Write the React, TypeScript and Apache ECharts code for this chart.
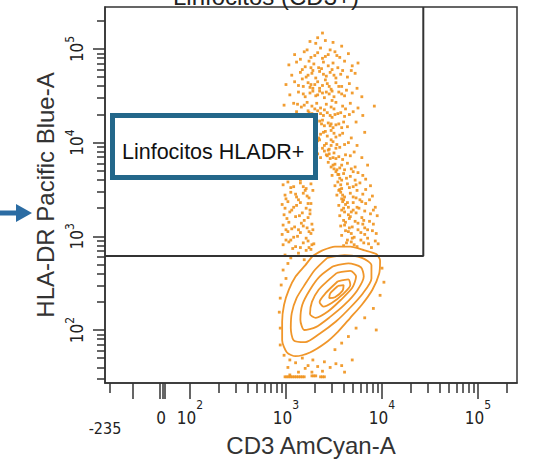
import React, { useEffect, useRef } from 'react';
import * as echarts from 'echarts';

const FONT = '"Liberation Sans", Arial, Helvetica, sans-serif';
const NARROW = '"Liberation Sans Narrow", "DejaVu Sans Condensed", "Liberation Sans", Arial, sans-serif';

// Axis ranges in decades (log10 of fluorescence; biexponential region below 10^2)
const X_MIN = 1.115;
const X_MAX = 5.406;
const Y_MIN = 1.434;
const Y_MAX = 5.448;

// Tick labels
const xLabelValues = [1.115, 1.7, 2, 3, 4, 5];
const xLabelBase = ['-235', '0', '10', '10', '10', '10'];
const xLabelExp = ['', '', '2', '3', '4', '5'];
const yLabelValues = [2, 3, 4, 5];
const yLabelExp = ['2', '3', '4', '5'];

// Ticks
const xMajorTicks = [1.4, 1.688, 1.714, 1.74, 2, 3, 4, 5];
const xLinearMinor = [1.167];
const yMajorTicks = [2, 3, 4, 5];
const logSteps = [2, 3, 4, 5, 6, 7, 8, 9];

// Gate (Linfocitos HLADR+)
const GATE_X = 4.43;
const GATE_Y = 2.79;

// Events above/around the population (log10 CD3, log10 HLA-DR)
const upperCloud: [number, number][] = [
  [3.38, 5.17], [3.33, 5.12],
  [3.25, 5.08], [3.31, 5.06], [3.41, 5.09], [3.49, 5.07], [3.58, 5.03],
  [3.09, 4.94], [3.19, 4.97], [3.26, 4.91], [3.33, 4.96], [3.38, 4.9], [3.44, 4.94], [3.51, 4.97], [3.56, 4.91], [3.65, 4.95], [3.15, 4.89],
  [3.03, 4.83], [3.11, 4.86], [3.2, 4.81], [3.24, 4.87], [3.29, 4.84], [3.34, 4.8], [3.39, 4.86], [3.44, 4.82], [3.49, 4.85], [3.54, 4.8], [3.61, 4.87], [3.69, 4.82], [3.75, 4.85],
  [3.06, 4.72], [3.15, 4.75], [3.21, 4.7], [3.27, 4.74], [3.31, 4.69], [3.35, 4.76], [3.42, 4.71], [3.46, 4.75], [3.52, 4.69], [3.57, 4.73], [3.64, 4.7], [3.72, 4.74], [3.17, 4.68],
  [3.0, 4.62], [3.09, 4.65], [3.18, 4.6], [3.23, 4.64], [3.28, 4.58], [3.33, 4.65], [3.38, 4.61], [3.43, 4.63], [3.47, 4.57], [3.52, 4.64], [3.58, 4.6], [3.66, 4.63], [3.74, 4.58], [3.3, 4.62],
  [3.04, 4.51], [3.13, 4.54], [3.2, 4.49], [3.25, 4.53], [3.31, 4.5], [3.35, 4.55], [3.4, 4.48], [3.45, 4.52], [3.5, 4.49], [3.55, 4.54], [3.61, 4.5], [3.69, 4.53], [3.79, 4.49],
  [2.98, 4.4], [3.08, 4.42], [3.16, 4.38], [3.22, 4.43], [3.27, 4.39], [3.32, 4.42], [3.36, 4.37], [3.42, 4.41], [3.47, 4.38], [3.52, 4.43], [3.59, 4.39], [3.67, 4.42], [3.75, 4.37], [3.92, 4.39],
  [3.02, 4.3], [3.11, 4.33], [3.19, 4.28], [3.24, 4.32], [3.29, 4.27], [3.33, 4.34], [3.39, 4.29], [3.43, 4.32], [3.48, 4.27], [3.54, 4.31], [3.61, 4.28], [3.7, 4.33], [3.8, 4.29],
  [2.97, 4.19], [3.06, 4.22], [3.15, 4.17], [3.21, 4.21], [3.26, 4.16], [3.31, 4.2], [3.35, 4.23], [3.4, 4.18], [3.44, 4.21], [3.49, 4.16], [3.55, 4.2], [3.64, 4.17], [3.73, 4.22],
  [3.01, 4.08], [3.1, 4.11], [3.19, 4.06], [3.25, 4.12], [3.3, 4.07], [3.34, 4.05], [3.39, 4.11], [3.43, 4.07], [3.47, 4.13], [3.52, 4.06], [3.59, 4.1], [3.68, 4.05], [3.82, 4.11],
  [2.99, 3.98], [3.08, 4.01], [3.17, 3.95], [3.23, 4.0], [3.28, 3.97], [3.33, 4.02], [3.38, 3.94], [3.42, 3.99], [3.45, 3.93], [3.49, 4.01], [3.56, 3.95], [3.65, 4.0], [3.74, 3.97],
  [2.97, 3.87], [3.05, 3.9], [3.14, 3.85], [3.21, 3.89], [3.27, 3.84], [3.33, 3.88], [3.4, 3.91], [3.43, 3.86], [3.46, 3.83], [3.5, 3.89], [3.55, 3.85], [3.62, 3.87], [3.71, 3.9], [3.79, 3.84],
  [2.98, 3.76], [3.04, 3.79], [3.11, 3.74], [3.18, 3.78], [3.24, 3.73], [3.3, 3.77], [3.44, 3.79], [3.47, 3.74], [3.51, 3.77], [3.56, 3.73], [3.64, 3.78], [3.72, 3.74], [3.85, 3.76],
  [2.96, 3.66], [3.03, 3.69], [3.09, 3.64], [3.16, 3.68], [3.22, 3.62], [3.27, 3.67], [3.48, 3.65], [3.52, 3.69], [3.56, 3.62], [3.6, 3.67], [3.67, 3.64], [3.75, 3.68], [3.83, 3.61],
  [2.97, 3.55], [3.02, 3.58], [3.08, 3.53], [3.15, 3.57], [3.21, 3.51], [3.26, 3.56], [3.51, 3.54], [3.54, 3.58], [3.58, 3.51], [3.64, 3.56], [3.7, 3.53], [3.77, 3.57], [3.88, 3.54],
  [2.99, 3.44], [3.05, 3.47], [3.11, 3.42], [3.18, 3.46], [3.24, 3.41], [3.53, 3.44], [3.57, 3.47], [3.61, 3.42], [3.67, 3.46], [3.73, 3.41], [3.8, 3.45], [3.9, 3.43],
  [2.96, 3.34], [3.02, 3.37], [3.08, 3.31], [3.15, 3.36], [3.21, 3.3], [3.26, 3.35], [3.55, 3.33], [3.59, 3.37], [3.65, 3.31], [3.7, 3.36], [3.76, 3.3], [3.83, 3.35], [3.93, 3.31],
  [2.98, 3.23], [3.04, 3.26], [3.1, 3.21], [3.17, 3.25], [3.23, 3.2], [3.56, 3.22], [3.61, 3.26], [3.67, 3.21], [3.73, 3.25], [3.79, 3.2], [3.88, 3.24], [3.95, 3.22],
  [2.97, 3.12], [3.03, 3.15], [3.09, 3.1], [3.16, 3.14], [3.22, 3.09], [3.27, 3.13], [3.57, 3.11], [3.62, 3.15], [3.69, 3.1], [3.75, 3.14], [3.82, 3.09], [3.91, 3.13],
  [2.96, 3.02], [3.02, 3.05], [3.08, 2.99], [3.15, 3.04], [3.21, 2.98], [3.26, 3.03], [3.58, 3.01], [3.65, 3.05], [3.71, 2.99], [3.78, 3.04], [3.85, 2.98], [3.94, 3.03],
  [2.97, 2.91], [3.03, 2.94], [3.1, 2.89], [3.18, 2.93], [3.24, 2.88], [3.29, 2.92], [3.6, 2.9], [3.68, 2.94], [3.74, 2.89], [3.81, 2.93], [3.89, 2.88], [3.96, 2.92],
];

const denseCore: [number, number][] = [
  [3.28, 4.77], [3.41, 4.67], [3.33, 4.51], [3.48, 4.45], [3.38, 4.24], [3.46, 4.18], [3.29, 4.14], [3.53, 3.98],
  [3.35, 4.03], [3.44, 3.92], [3.49, 3.84], [3.42, 3.87], [3.53, 3.71], [3.58, 3.6], [3.55, 3.49], [3.6, 3.39],
  [3.58, 3.28], [3.61, 3.12], [3.64, 2.96], [3.28, 3.49], [3.25, 3.28], [3.28, 3.07], [3.27, 2.91], [3.23, 4.34],
  [3.58, 4.16], [3.42, 4.54], [3.26, 4.62], [3.51, 4.3], [3.32, 3.94], [3.47, 4.03],
  [3.01, 3.81], [3.08, 3.71], [3.15, 3.6], [3.2, 3.49], [3.13, 3.39], [3.06, 3.28], [3.19, 3.17], [3.13, 3.07],
  [3.05, 2.96], [3.21, 2.85], [3.0, 3.07], [3.25, 3.81], [3.21, 3.71],
  [3.49, 3.76], [3.54, 3.66], [3.57, 3.55], [3.59, 3.44], [3.62, 3.34], [3.65, 3.23], [3.66, 3.09], [3.69, 2.98],
  [3.72, 3.6], [3.77, 3.39], [3.81, 3.17], [3.85, 3.07], [3.7, 3.28], [3.74, 3.49], [3.61, 3.71],
];

const extraCloud: [number, number][] = [
  [3.22, 4.99], [3.36, 5.01], [3.46, 4.99], [3.3, 4.93], [3.41, 4.92], [3.53, 4.93],
  [3.17, 4.78], [3.26, 4.8], [3.37, 4.79], [3.48, 4.78], [3.59, 4.77], [3.68, 4.77], [3.23, 4.72], [3.39, 4.73], [3.5, 4.72],
  [3.13, 4.61], [3.25, 4.59], [3.35, 4.58], [3.45, 4.6], [3.55, 4.6], [3.63, 4.56], [3.18, 4.52], [3.28, 4.55], [3.38, 4.53], [3.48, 4.55], [3.58, 4.52],
  [3.12, 4.41], [3.19, 4.4], [3.3, 4.36], [3.4, 4.35], [3.5, 4.36], [3.62, 4.36], [3.14, 4.3], [3.27, 4.31], [3.36, 4.31], [3.46, 4.29], [3.57, 4.32], [3.66, 4.3],
  [3.11, 4.2], [3.24, 4.19], [3.37, 4.2], [3.47, 4.2], [3.52, 4.19], [3.6, 4.22], [3.14, 4.09], [3.22, 4.08], [3.36, 4.09], [3.41, 4.12], [3.5, 4.1], [3.56, 4.08],
  [3.13, 3.99], [3.2, 3.97], [3.31, 3.99], [3.4, 3.97], [3.47, 3.97], [3.52, 3.94], [3.61, 3.98],
  [3.09, 3.87], [3.18, 3.83], [3.3, 3.86], [3.36, 3.84], [3.45, 3.88], [3.52, 3.83], [3.59, 3.82], [3.67, 3.86], [3.14, 3.76], [3.27, 3.75], [3.5, 3.72], [3.58, 3.76], [3.68, 3.72],
  [3.0, 3.62], [3.12, 3.66], [3.24, 3.64], [3.05, 3.52], [3.18, 3.53], [3.0, 3.4], [3.1, 3.45], [3.22, 3.43], [2.99, 3.3], [3.11, 3.33], [3.23, 3.35],
  [3.01, 3.19], [3.14, 3.22], [3.25, 3.24], [3.06, 3.08], [3.18, 3.11], [3.24, 3.05], [3.0, 2.96], [3.12, 3.0], [3.23, 2.95], [3.07, 2.87], [3.15, 2.88], [3.26, 2.86],
  [3.55, 3.66], [3.63, 3.62], [3.7, 3.69], [3.8, 3.65], [3.56, 3.5], [3.66, 3.52], [3.73, 3.55], [3.83, 3.5], [3.58, 3.4], [3.64, 3.36], [3.7, 3.42], [3.79, 3.37], [3.87, 3.39],
  [3.6, 3.3], [3.68, 3.26], [3.74, 3.31], [3.82, 3.27], [3.91, 3.28], [3.6, 3.17], [3.66, 3.19], [3.72, 3.16], [3.8, 3.13], [3.87, 3.16],
  [3.62, 3.06], [3.68, 3.03], [3.75, 3.07], [3.82, 3.02], [3.9, 3.06], [3.63, 2.93], [3.71, 2.91], [3.78, 2.96], [3.86, 2.92], [3.93, 2.95],
];

const lowerOutliers: [number, number][] = [
  [2.99, 2.8], [3.05, 2.77], [3.13, 2.82], [3.19, 2.75], [3.02, 2.71], [2.97, 2.64], [3.0, 2.55], [2.95, 2.48],
  [2.94, 2.34], [2.93, 2.19], [2.94, 2.02], [4.0, 2.66], [4.02, 2.51], [3.98, 2.37],
  [2.98, 1.73], [3.04, 1.68], [3.1, 1.65], [3.17, 1.7], [3.23, 1.62], [3.28, 1.68], [3.33, 1.61], [3.4, 1.66],
  [3.46, 1.6], [3.52, 1.64], [3.58, 1.62], [3.02, 1.6], [3.13, 1.55], [3.27, 1.55], [3.51, 1.79], [3.58, 1.86],
  [3.65, 1.93], [3.73, 2.02], [3.82, 2.13], [3.91, 2.23], [3.94, 2.0], [3.04, 1.52], [3.61, 1.55], [2.94, 1.84],
  [3.2, 1.59], [3.38, 1.56], [3.69, 1.68],
  [2.99, 1.5], [3.01, 1.5], [3.03, 1.5], [3.05, 1.5], [3.07, 1.5], [3.09, 1.5], [3.11, 1.5], [3.13, 1.5],
  [3.15, 1.5], [3.17, 1.5], [3.19, 1.5], [3.27, 1.51], [3.29, 1.51], [3.31, 1.51], [3.36, 1.5], [3.38, 1.5], [3.4, 1.5],
];

// Density contours (outer to inner)
const contour6: [number, number][] = [
  [3.38, 2.85], [3.51, 2.89], [3.67, 2.89], [3.82, 2.85], [3.94, 2.81], [3.98, 2.74], [3.97, 2.6], [3.9, 2.43],
  [3.79, 2.27], [3.67, 2.13], [3.54, 1.98], [3.41, 1.86], [3.25, 1.76], [3.1, 1.72], [3.01, 1.76], [2.96, 1.89],
  [2.96, 2.09], [2.98, 2.27], [3.03, 2.43], [3.1, 2.57], [3.2, 2.69], [3.28, 2.79],
];
const contour5: [number, number][] = [
  [3.43, 2.77], [3.61, 2.8], [3.79, 2.77], [3.89, 2.69], [3.89, 2.55], [3.8, 2.39], [3.67, 2.24], [3.52, 2.09],
  [3.35, 1.96], [3.2, 1.87], [3.08, 1.89], [3.05, 2.02], [3.06, 2.18], [3.11, 2.34], [3.2, 2.49], [3.3, 2.64],
];
const contour4: [number, number][] = [
  [3.49, 2.68], [3.65, 2.71], [3.78, 2.67], [3.81, 2.57], [3.74, 2.42], [3.61, 2.27], [3.46, 2.14], [3.31, 2.03],
  [3.19, 2.0], [3.15, 2.11], [3.17, 2.27], [3.25, 2.43], [3.35, 2.57],
];
const contour3: [number, number][] = [
  [3.53, 2.61], [3.67, 2.63], [3.73, 2.57], [3.69, 2.45], [3.57, 2.32], [3.44, 2.2], [3.31, 2.13], [3.25, 2.17],
  [3.27, 2.3], [3.34, 2.43], [3.44, 2.53],
];
const contour2: [number, number][] = [
  [3.54, 2.52], [3.65, 2.54], [3.67, 2.48], [3.59, 2.38], [3.48, 2.29], [3.39, 2.25], [3.35, 2.3], [3.41, 2.39],
];
const contour1: [number, number][] = [
  [3.54, 2.47], [3.6, 2.48], [3.59, 2.42], [3.51, 2.35], [3.45, 2.34], [3.46, 2.39],
];
const contours = [contour6, contour5, contour4, contour3, contour2, contour1];

const ORANGE = '#f0921c';
const AXIS = '#333333';

function logMinors(decades: number[], extra: number[]): number[] {
  const out: number[] = [];
  decades.forEach((d) => logSteps.forEach((s) => out.push(d + Math.log10(s))));
  return out.concat(extra);
}

export default function App() {
  const ref = useRef<HTMLDivElement>(null);

  useEffect(() => {
    if (!ref.current) return;
    const chart = echarts.init(ref.current, undefined, { renderer: 'svg' });

    const xMinor = logMinors([2, 3, 4], [5 + Math.log10(2)]).concat(xLinearMinor).filter((v) => v > X_MIN && v < X_MAX);
    const yMinor = logMinors([1, 2, 3, 4], [5 + Math.log10(2)]).filter((v) => v > Y_MIN && v < Y_MAX);

    const richX = {
      b: { fontSize: 17, fontFamily: NARROW, color: '#222', verticalAlign: 'bottom', padding: [10, 0, 0, 0] },
      s: { fontSize: 12, fontFamily: NARROW, color: '#222', verticalAlign: 'top' },
      low: { fontSize: 16, fontFamily: NARROW, color: '#222', padding: [21, 0, 0, 0] },
    };
    const richY = {
      b: { fontSize: 17, fontFamily: NARROW, color: '#222', verticalAlign: 'bottom', padding: [4, 0, 0, 0] },
      s: { fontSize: 12, fontFamily: NARROW, color: '#222', verticalAlign: 'top' },
    };

    const option: any = {
      animation: false,
      backgroundColor: '#ffffff',
      grid: {
        left: 105, right: 21, top: 7, bottom: 86,
        show: true, borderColor: AXIS, borderWidth: 1.5, backgroundColor: 'transparent',
      },
      xAxis: [
        {
          type: 'value', min: X_MIN, max: X_MAX, position: 'bottom',
          name: 'CD3 AmCyan-A', nameLocation: 'middle', nameGap: 50, nameMoveOverlap: false,
          nameTextStyle: { fontSize: 24, color: '#333', fontFamily: FONT },
          axisLine: { show: true, onZero: false, lineStyle: { color: AXIS, width: 1.5 } },
          axisTick: { show: true, customValues: xMajorTicks, length: 16, lineStyle: { color: AXIS, width: 1.5 } },
          axisLabel: {
            show: true, customValues: xLabelValues, margin: 16, rich: richX,
            formatter: (v: number) => {
              const i = xLabelValues.findIndex((x) => Math.abs(x - v) < 1e-6);
              if (i < 0) return '';
              if (i === 0) return '{low|' + xLabelBase[0] + '}';
              if (!xLabelExp[i]) return '{b|' + xLabelBase[i] + '}';
              return '{b|' + xLabelBase[i] + '}{s|' + xLabelExp[i] + '}';
            },
          },
          splitLine: { show: false },
        },
        {
          type: 'value', min: X_MIN, max: X_MAX, position: 'bottom',
          axisLine: { show: false },
          axisTick: { show: true, customValues: xMinor, length: 10, lineStyle: { color: AXIS, width: 1.5 } },
          axisLabel: { show: false },
          splitLine: { show: false },
        },
      ],
      yAxis: [
        {
          type: 'value', min: Y_MIN, max: Y_MAX, position: 'left',
          name: 'HLA-DR Pacific Blue-A', nameLocation: 'middle', nameGap: 48, nameMoveOverlap: false,
          nameTextStyle: { fontSize: 24, color: '#333', fontFamily: FONT },
          axisLine: { show: true, onZero: false, lineStyle: { color: AXIS, width: 1.5 } },
          axisTick: { show: true, customValues: yMajorTicks, length: 12, lineStyle: { color: AXIS, width: 1.5 } },
          axisLabel: {
            show: true, customValues: yLabelValues, margin: 20, rotate: 90, rich: richY,
            formatter: (v: number) => {
              const i = yLabelValues.findIndex((y) => Math.abs(y - v) < 1e-6);
              if (i < 0) return '';
              return '{b|10}{s|' + yLabelExp[i] + '}';
            },
          },
          splitLine: { show: false },
        },
        {
          type: 'value', min: Y_MIN, max: Y_MAX, position: 'left',
          axisLine: { show: false },
          axisTick: { show: true, customValues: yMinor, length: 8, lineStyle: { color: AXIS, width: 1.5 } },
          axisLabel: { show: false },
          splitLine: { show: false },
        },
      ],
      series: [
        {
          type: 'scatter', xAxisIndex: 0, yAxisIndex: 0,
          data: [...upperCloud, ...denseCore, ...extraCloud, ...lowerOutliers],
          symbol: 'rect', symbolSize: 2.8, silent: true,
          itemStyle: { color: ORANGE, opacity: 0.9 }, z: 2,
        },
        ...contours.map((c) => ({
          type: 'line', xAxisIndex: 0, yAxisIndex: 0,
          data: [...c, c[0]], symbol: 'none', showSymbol: false, smooth: 0.25, silent: true,
          lineStyle: { color: '#f0962a', width: 1.8 }, z: 3,
        })),
        {
          type: 'line', xAxisIndex: 0, yAxisIndex: 0,
          data: [[X_MIN, GATE_Y], [GATE_X, GATE_Y], [GATE_X, Y_MAX]],
          symbol: 'none', showSymbol: false, silent: true,
          lineStyle: { color: '#333', width: 2 }, z: 4,
        },
      ],
      graphic: [
        {
          type: 'text', x: 266, y: 8, z: 10,
          style: { text: 'Linfocitos (CD3+)', font: '24px ' + FONT, fill: '#222', align: 'center', verticalAlign: 'bottom' },
        },
        {
          type: 'rect', z: 10,
          shape: { x: 112.5, y: 115.5, width: 203, height: 62 },
          style: { fill: '#ffffff', stroke: '#23678a', lineWidth: 5 },
        },
        {
          type: 'text', x: 122, y: 152, z: 11,
          style: { text: 'Linfocitos HLADR+', font: '21.5px ' + FONT, fill: '#111', align: 'left', verticalAlign: 'middle' },
        },
        {
          type: 'polygon', z: 10,
          shape: { points: [[0, 210.5], [16, 210.5], [16, 204], [32, 213], [16, 222], [16, 215.5], [0, 215.5]] },
          style: { fill: '#2b6ca3' },
        },
      ],
    };

    chart.setOption(option);
    return () => chart.dispose();
  }, []);

  return (
    <div
      ref={ref}
      style={{ position: 'fixed', left: 0, top: 0, width: 538, height: 469, background: '#fff' }}
    />
  );
}
